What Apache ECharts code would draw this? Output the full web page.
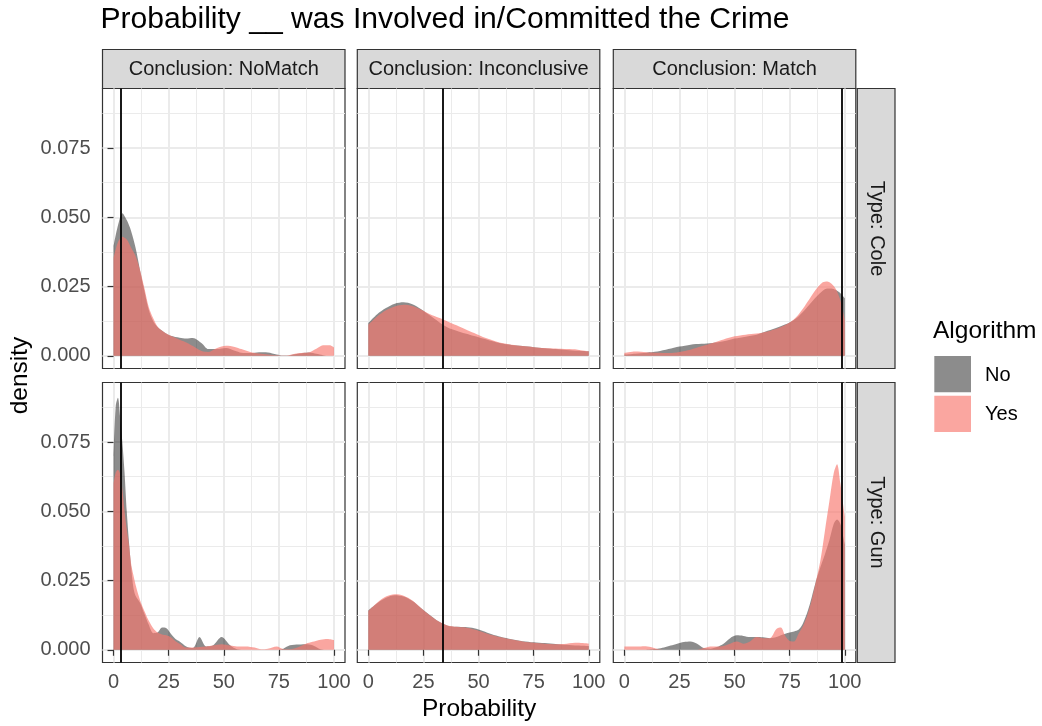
<!DOCTYPE html>
<html><head><meta charset="utf-8">
<script src="https://cdn.jsdelivr.net/npm/echarts@6/dist/echarts.min.js"></script>
<style>html,body{margin:0;padding:0;background:#fff}#c{width:1042px;height:726px}</style>
</head><body><div id="c"></div>
<script>
// ---------- data ----------
const titleText = 'Probability __ was Involved in/Committed the Crime';
const conclusions = ['NoMatch', 'Inconclusive', 'Match'];
const types = ['Cole', 'Gun'];
const algorithms = ['No', 'Yes'];
const xTicks = [0, 25, 50, 75, 100];
const xMinor = [12.5, 37.5, 62.5, 87.5];
const yTicks = [0, 0.025, 0.05, 0.075];
const yMinor = [0.0125, 0.0375, 0.0625, 0.0875];
const vlines = [3.3, 33.9, 98.8]; // one per conclusion

// Cole / NoMatch
const x_Cole_NoMatch = [0,2,4,6,8,10,12,14,16,18,20,23,26,30,33,36,40,43,47,51,55,58,62,66,70,74,77,80,83,86,89,92,95,98,100];
const no_Cole_NoMatch = [0.0395,0.047,0.0515,0.049,0.045,0.039,0.031,0.0235,0.0165,0.0125,0.0104,0.0085,0.0072,0.0065,0.0062,0.0064,0.0045,0.0024,0.0024,0.0028,0.0018,0.0011,0.0010,0.0013,0.0012,0.0005,0.0001,0.0002,0.0006,0.0010,0.0012,0.0007,0.0002,0.0000,0.0000];
const yes_Cole_NoMatch = [0.0353,0.041,0.043,0.042,0.039,0.036,0.031,0.0245,0.0175,0.0135,0.0105,0.0085,0.0072,0.0058,0.0048,0.0035,0.0017,0.0014,0.0028,0.0036,0.0032,0.0024,0.0014,0.0008,0.0005,0.0002,0.0001,0.0003,0.0008,0.0011,0.0013,0.0025,0.0038,0.0038,0.0030];

// Gun / NoMatch
const x_Gun_NoMatch = [0,1,2,3,4,5,6,7,8,9,10,12,14,16,18,20,22,24,26,28,30,33,36,39,42,45,49,53,56,60,64,67,70,74,77,80,84,88,91,94,97,100];
const no_Gun_NoMatch = [0.070,0.088,0.091,0.084,0.075,0.064,0.050,0.039,0.030,0.0225,0.0195,0.0170,0.0130,0.0090,0.0060,0.0062,0.0080,0.0078,0.0058,0.0040,0.0030,0.0012,0.0006,0.0046,0.0012,0.0015,0.0046,0.0015,0.0002,0,0,0,0,0,0.0004,0.0016,0.0019,0.0020,0.0014,0.0002,0,0];
const yes_Gun_NoMatch = [0.060,0.064,0.065,0.0635,0.058,0.050,0.0435,0.038,0.031,0.027,0.0235,0.018,0.014,0.0105,0.0078,0.0062,0.0055,0.0052,0.0045,0.0032,0.0022,0.0008,0.0008,0.0010,0.0012,0.0015,0.0020,0.0015,0.0012,0.0012,0.0008,0.0002,0.0004,0.0012,0.0003,0.0002,0.0010,0.0024,0.0030,0.0036,0.0039,0.0035];

// Cole / Inconclusive
const x_Cole_Inconclusive = [0,4,8,12,16,20,24,28,32,36,40,44,48,52,56,60,65,70,75,80,85,90,95,100];
const no_Cole_Inconclusive = [0.0118,0.0150,0.0172,0.0188,0.0193,0.0186,0.0168,0.0145,0.0122,0.0102,0.0090,0.0080,0.0071,0.0062,0.0053,0.0045,0.0039,0.0035,0.0031,0.0027,0.0024,0.0021,0.0018,0.0016];
const yes_Cole_Inconclusive = [0.0112,0.0142,0.0164,0.0178,0.0184,0.0180,0.0166,0.0150,0.0137,0.0124,0.0110,0.0096,0.0082,0.0068,0.0057,0.0047,0.0040,0.0035,0.0031,0.0028,0.0026,0.0024,0.0022,0.0016];

// Gun / Inconclusive
const x_Gun_Inconclusive = [0,4,8,12,16,20,24,28,32,36,40,44,48,52,56,60,65,70,75,80,85,90,95,100];
const no_Gun_Inconclusive = [0.0142,0.0168,0.0188,0.0197,0.0192,0.0176,0.0150,0.0125,0.0102,0.0087,0.0083,0.0082,0.0078,0.0068,0.0056,0.0047,0.0038,0.0031,0.0027,0.0024,0.0021,0.0018,0.0015,0.0013];
const yes_Gun_Inconclusive = [0.0140,0.0170,0.0192,0.0200,0.0195,0.0178,0.0150,0.0124,0.0102,0.0088,0.0083,0.0080,0.0073,0.0063,0.0053,0.0045,0.0037,0.0030,0.0025,0.0022,0.0020,0.0022,0.0025,0.0022];

// Cole / Match
const x_Cole_Match = [0,5,10,15,20,25,30,35,40,45,50,55,60,65,70,75,78,81,84,87,90,92,94,96,98,100];
const no_Cole_Match = [0.0004,0.0007,0.0011,0.0015,0.0024,0.0033,0.0040,0.0043,0.0046,0.0052,0.0062,0.0069,0.0076,0.0090,0.0104,0.0120,0.0135,0.0158,0.0185,0.0212,0.0235,0.0243,0.0243,0.0237,0.0226,0.0208];
const yes_Cole_Match = [0.0010,0.0015,0.0013,0.0011,0.0010,0.0014,0.0022,0.0034,0.0046,0.0059,0.0070,0.0076,0.0080,0.0088,0.0100,0.0120,0.0140,0.0170,0.0205,0.0240,0.0265,0.0268,0.0260,0.0240,0.0200,0.0130];

// Gun / Match
const x_Gun_Match = [0,3,6,9,12,15,18,21,24,27,30,33,36,39,42,45,48,51,54,57,60,63,66,69,71,73,75,77,79,81,83,85,87,89,91,93,95,96.5,98,99,100];
const no_Gun_Match = [0,0,0,0,0.0002,0.0004,0.0008,0.0015,0.0022,0.0028,0.0030,0.0022,0.0006,0.0004,0.0010,0.0022,0.0042,0.0052,0.0050,0.0046,0.0046,0.0045,0.0042,0.0046,0.0052,0.0058,0.0062,0.0066,0.0072,0.0095,0.0135,0.0190,0.0250,0.0300,0.0345,0.0395,0.0455,0.0470,0.0455,0.0420,0.0380];
const yes_Gun_Match = [0.0012,0.0012,0.0012,0.0013,0.0010,0.0003,0,0,0,0,0,0,0.0006,0.0012,0.0012,0.0014,0.0022,0.0030,0.0022,0.0030,0.0046,0.0042,0.0042,0.0075,0.0080,0.0050,0.0032,0.0030,0.0058,0.0085,0.0125,0.0180,0.0250,0.0325,0.0430,0.0535,0.0638,0.0670,0.0600,0.0540,0.0480];

const panelData = {
  Cole: {
    NoMatch: [x_Cole_NoMatch, no_Cole_NoMatch, yes_Cole_NoMatch],
    Inconclusive: [x_Cole_Inconclusive, no_Cole_Inconclusive, yes_Cole_Inconclusive],
    Match: [x_Cole_Match, no_Cole_Match, yes_Cole_Match]
  },
  Gun: {
    NoMatch: [x_Gun_NoMatch, no_Gun_NoMatch, yes_Gun_NoMatch],
    Inconclusive: [x_Gun_Inconclusive, no_Gun_Inconclusive, yes_Gun_Inconclusive],
    Match: [x_Gun_Match, no_Gun_Match, yes_Gun_Match]
  }
};

// ---------- style / layout ----------
const FONT = '"Liberation Sans", Arial, Helvetica, sans-serif';
const SMALL = 20;
const fillColors = { No: 'rgba(0,0,0,0.45)', Yes: 'rgba(248,118,109,0.65)' };
const colLeft = [102.5, 357.3, 613.3];
const panelW = 242.5;
const rowTop = [88.5, 382.5];
const panelH = 280;
const xMin = -5, xMax = 105;
const yMin = -0.0046, yMax = 0.0965;
const stripTopY = 49.5, stripH = 39;
const stripRightX = 857.3, stripRightW = 37.7;

const grids = [], xAxes = [], yAxes = [], series = [];
let gi = 0;
types.forEach((type, r) => {
  conclusions.forEach((conc, c) => {
    grids.push({ left: colLeft[c], top: rowTop[r], width: panelW, height: panelH,
      show: true, borderColor: '#333333', borderWidth: 1.2, backgroundColor: '#ffffff', containLabel: false });
    const bottomRow = r === types.length - 1;
    const leftCol = c === 0;
    // major x axis
    xAxes.push({ type: 'value', gridIndex: gi, min: xMin, max: xMax, position: 'bottom',
      axisLine: { show: false },
      axisTick: { show: bottomRow, customValues: xTicks, length: 6, lineStyle: { color: '#333333', width: 1.2 } },
      axisLabel: { show: bottomRow, customValues: xTicks, margin: 10, color: '#4d4d4d', fontSize: SMALL, fontFamily: FONT },
      splitLine: { show: true, lineStyle: { color: '#ebebeb', width: 2 } } });
    // minor x axis
    xAxes.push({ type: 'value', gridIndex: gi, min: xMin, max: xMax, position: 'top',
      axisLine: { show: false }, axisTick: { show: false, customValues: xMinor },
      axisLabel: { show: false, customValues: xMinor },
      splitLine: { show: true, lineStyle: { color: '#ebebeb', width: 1 } } });
    // major y axis
    yAxes.push({ type: 'value', gridIndex: gi, min: yMin, max: yMax, position: 'left',
      axisLine: { show: false },
      axisTick: { show: leftCol, customValues: yTicks, length: 6, lineStyle: { color: '#333333', width: 1.2 } },
      axisLabel: { show: leftCol, customValues: yTicks, margin: 12, color: '#4d4d4d', fontSize: SMALL, fontFamily: FONT,
        formatter: v => Number(v).toFixed(3) },
      splitLine: { show: true, lineStyle: { color: '#ebebeb', width: 2 } } });
    // minor y axis
    yAxes.push({ type: 'value', gridIndex: gi, min: yMin, max: yMax, position: 'right',
      axisLine: { show: false }, axisTick: { show: false, customValues: yMinor },
      axisLabel: { show: false, customValues: yMinor },
      splitLine: { show: true, lineStyle: { color: '#ebebeb', width: 1 } } });

    const [xs, noVals, yesVals] = panelData[type][conc];
    [noVals, yesVals].forEach((vals, k) => {
      const alg = algorithms[k];
      const s = {
        name: alg, type: 'line', xAxisIndex: gi * 2, yAxisIndex: gi * 2,
        data: xs.map((x, i) => [x, vals[i]]),
        symbol: 'none', showSymbol: false, smooth: 0.3,
        lineStyle: { width: 0, opacity: 0 },
        itemStyle: { color: fillColors[alg] },
        areaStyle: { color: fillColors[alg], opacity: 1 },
        silent: true, z: 2 + k
      };
      if (k === 1) {
        s.markLine = { silent: true, symbol: ['none', 'none'], label: { show: false },
          lineStyle: { color: '#000000', width: 1.8, type: 'solid' },
          data: [{ xAxis: vlines[c] }], animation: false };
      }
      series.push(s);
    });
    gi++;
  });
});

// ---------- graphic (strips, titles, legend) ----------
const graphic = [];
const txt = (x, y, text, size, color, align, rotation) => ({
  type: 'text', x, y, rotation: rotation || 0, silent: true,
  style: { text, fill: color, font: `${size}px ${FONT}`, align: align || 'center', verticalAlign: 'middle' }
});
graphic.push(txt(100.4, 20, titleText, 30.1, '#000000', 'left'));
conclusions.forEach((conc, c) => {
  graphic.push({ type: 'rect', silent: true, shape: { x: colLeft[c], y: stripTopY, width: panelW, height: stripH },
    style: { fill: '#d9d9d9', stroke: '#333333', lineWidth: 1.2 } });
  graphic.push(txt(colLeft[c] + panelW / 2, stripTopY + stripH / 2, 'Conclusion: ' + conc, SMALL, '#1a1a1a'));
});
types.forEach((type, r) => {
  graphic.push({ type: 'rect', silent: true, shape: { x: stripRightX, y: rowTop[r], width: stripRightW, height: panelH },
    style: { fill: '#d9d9d9', stroke: '#333333', lineWidth: 1.2 } });
  graphic.push(txt(stripRightX + stripRightW / 2, rowTop[r] + panelH / 2, 'Type: ' + type, SMALL, '#1a1a1a', 'center', -Math.PI / 2));
});
// axis titles
graphic.push(txt((colLeft[0] + colLeft[2] + panelW) / 2, 709, 'Probability', 24.5, '#000000'));
graphic.push(txt(20.5, (rowTop[0] + rowTop[1] + panelH) / 2, 'density', 24.5, '#000000', 'center', Math.PI / 2));
// legend
graphic.push(txt(933, 331.5, 'Algorithm', 24.5, '#000000', 'left'));
algorithms.forEach((alg, k) => {
  const ky = 356 + k * 39.7;
  graphic.push({ type: 'rect', silent: true, shape: { x: 934.3, y: ky, width: 36.7, height: 36.3 },
    style: { fill: fillColors[alg] } });
  graphic.push(txt(985, ky + 19, alg, SMALL, '#000000', 'left'));
});

const chart = echarts.init(document.getElementById('c'), null, { renderer: 'canvas' });
chart.setOption({
  backgroundColor: '#ffffff',
  animation: false,
  grid: grids, xAxis: xAxes, yAxis: yAxes, series,
  graphic
});
</script></body></html>
